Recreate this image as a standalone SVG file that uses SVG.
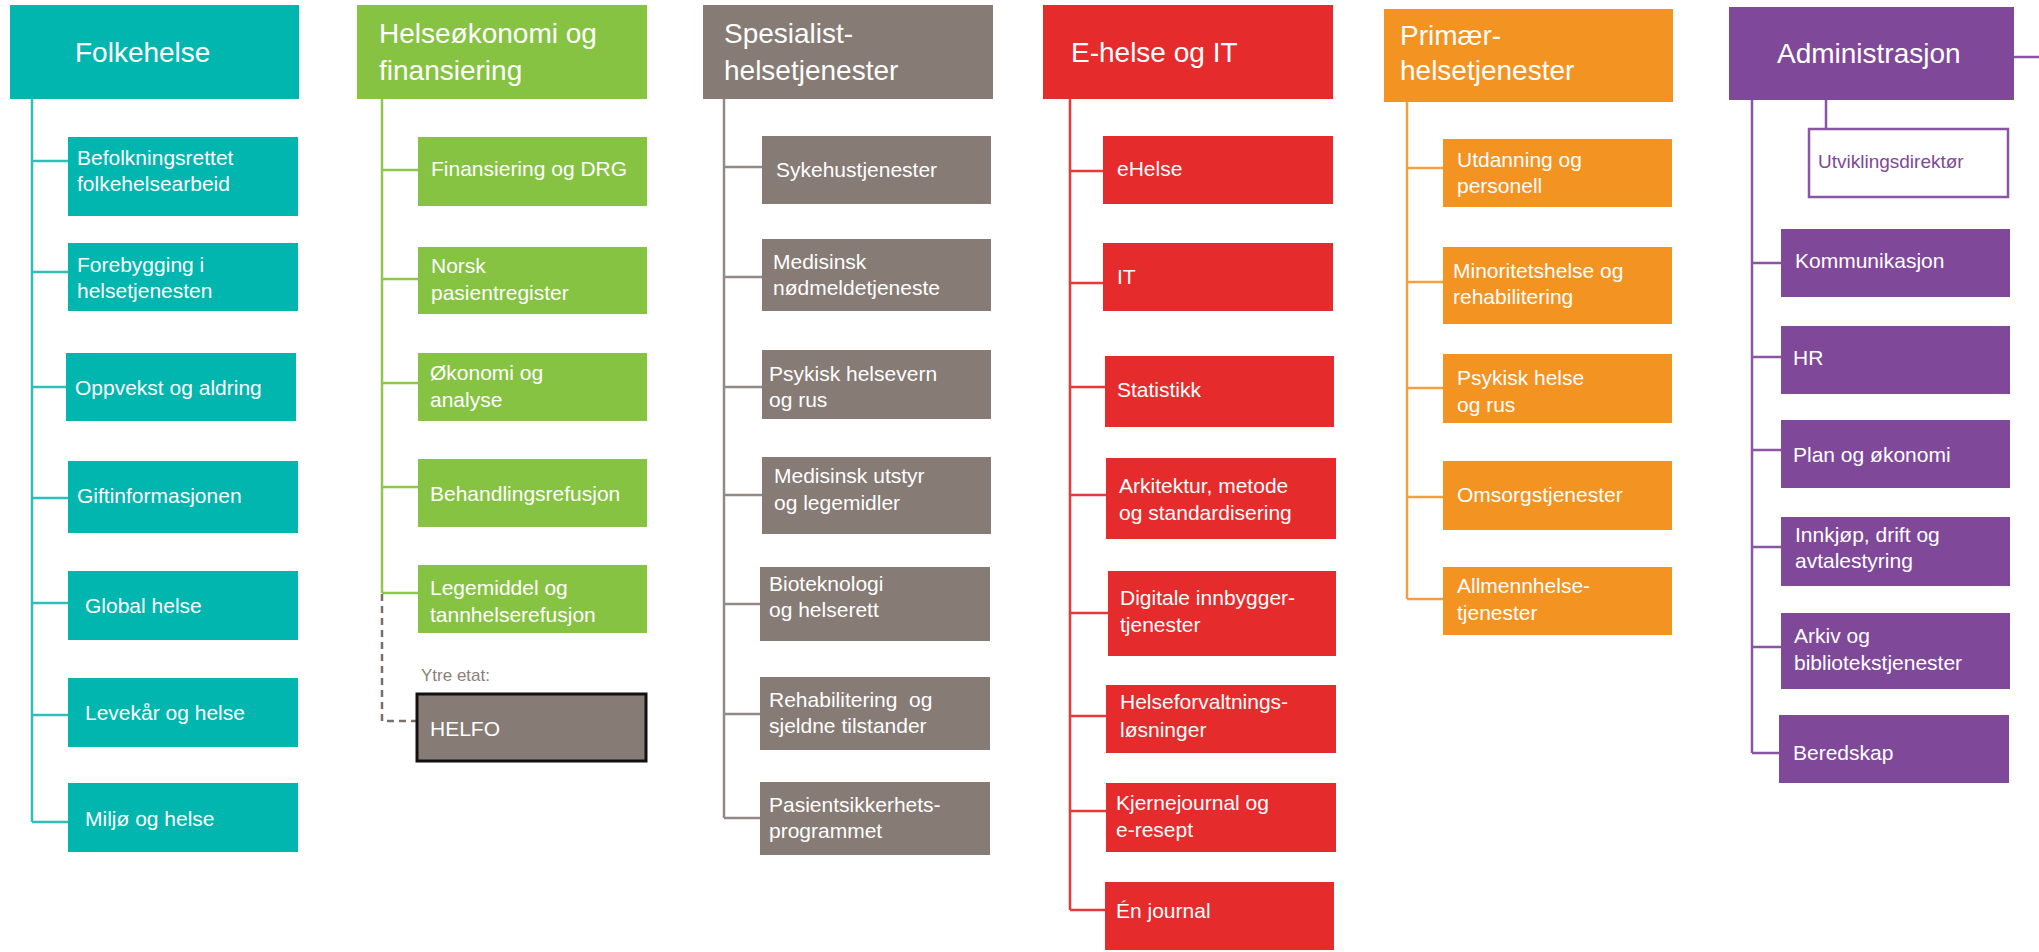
<svg xmlns="http://www.w3.org/2000/svg" width="2039" height="952" viewBox="0 0 2039 952">
<style>
text{font-family:"Liberation Sans",Arial,sans-serif;fill:#fff}
.h{font-size:28px}
.c{font-size:21px}
.teal{fill:#00B6AE}
.green{fill:#86C342}
.gray{fill:#877B75}
.red{fill:#E52B2B}
.orange{fill:#F39321}
.purple{fill:#7F4899}
.ln{fill:none;stroke-width:2.5}
.lteal{stroke:#2EC0B8}
.lgreen{stroke:#8DC74C}
.lgray{stroke:#948A85}
.lred{stroke:#E8393A}
.lorange{stroke:#F5A040}
.lpurple{stroke:#8A56A3}
</style>
<rect width="2039" height="952" fill="#fff"/>
<g id="connectors">
<path class="ln lteal" d="M32 99V822M32 161H68M32 272H68M32 387H66M32 498H68M32 603H68M32 715H68M32 822H68"/>
<path class="ln lgreen" d="M382 99V593M382 170H418M382 279H418M382 383H418M382 487H418M382 593H418"/>
<path fill="none" stroke="#7A6F6B" stroke-width="2.5" stroke-dasharray="7,5" d="M382 594V721H416"/>
<path class="ln lgray" d="M724 99V818M724 167H762M724 277H762M724 387H762M724 495H762M724 604H760M724 714H760M724 818H760"/>
<path class="ln lred" d="M1070 99V910M1070 171H1103M1070 283H1103M1070 387H1105M1070 495H1106M1070 613H1108M1070 716H1106M1070 811H1106M1070 910H1105"/>
<path class="ln lorange" d="M1407 102V599M1407 168H1443M1407 282H1443M1407 388H1443M1407 497H1443M1407 599H1443"/>
<path class="ln lpurple" d="M1752 100V753M1752 263H1781M1752 357H1781M1752 450H1781M1752 547H1781M1752 647H1781M1752 753H1779M1826 100V129M2014 57H2039"/>
</g>
<g id="folkehelse"><rect class="teal" x="10" y="5" width="289" height="94"/><text class="h" x="75" y="62">Folkehelse</text></g>
<g id="befolkning"><rect class="teal" x="68" y="137" width="230" height="79"/><text class="c" x="77" y="165">Befolkningsrettet</text><text class="c" x="77" y="191">folkehelsearbeid</text></g>
<g id="forebygging"><rect class="teal" x="68" y="243" width="230" height="68"/><text class="c" x="77" y="272">Forebygging i</text><text class="c" x="77" y="298">helsetjenesten</text></g>
<g id="oppvekst"><rect class="teal" x="66" y="353" width="230" height="68"/><text class="c" x="75" y="395">Oppvekst og aldring</text></g>
<g id="giftinfo"><rect class="teal" x="68" y="461" width="230" height="72"/><text class="c" x="77" y="503">Giftinformasjonen</text></g>
<g id="global"><rect class="teal" x="68" y="571" width="230" height="69"/><text class="c" x="85" y="613">Global helse</text></g>
<g id="levekar"><rect class="teal" x="68" y="678" width="230" height="69"/><text class="c" x="85" y="720">Levekår og helse</text></g>
<g id="miljo"><rect class="teal" x="68" y="783" width="230" height="69"/><text class="c" x="85" y="826">Miljø og helse</text></g>

<g id="helseokonomi"><rect class="green" x="357" y="5" width="290" height="94"/><text class="h" x="379" y="43">Helseøkonomi og</text><text class="h" x="379" y="80">finansiering</text></g>
<g id="finansiering"><rect class="green" x="418" y="137" width="229" height="69"/><text class="c" x="431" y="176">Finansiering og DRG</text></g>
<g id="npr"><rect class="green" x="418" y="247" width="229" height="67"/><text class="c" x="431" y="273">Norsk</text><text class="c" x="431" y="300">pasientregister</text></g>
<g id="okonomi"><rect class="green" x="418" y="353" width="229" height="68"/><text class="c" x="430" y="380">Økonomi og</text><text class="c" x="430" y="407">analyse</text></g>
<g id="behandling"><rect class="green" x="418" y="459" width="229" height="68"/><text class="c" x="430" y="501">Behandlingsrefusjon</text></g>
<g id="legemiddel"><rect class="green" x="418" y="565" width="229" height="68"/><text class="c" x="430" y="595">Legemiddel og</text><text class="c" x="430" y="622">tannhelserefusjon</text></g>
<g id="helfo"><text x="421" y="681" font-size="17" style="fill:#8A7F7A">Ytre etat:</text><rect x="417" y="694" width="229" height="67" fill="#877B75" stroke="#111" stroke-width="3"/><text class="c" x="430" y="736">HELFO</text></g>

<g id="spesialist"><rect class="gray" x="703" y="5" width="290" height="94"/><text class="h" x="724" y="43">Spesialist-</text><text class="h" x="724" y="80">helsetjenester</text></g>
<g id="sykehus"><rect class="gray" x="762" y="136" width="229" height="68"/><text class="c" x="776" y="177">Sykehustjenester</text></g>
<g id="nodmeld"><rect class="gray" x="762" y="239" width="229" height="72"/><text class="c" x="773" y="269">Medisinsk</text><text class="c" x="773" y="295">nødmeldetjeneste</text></g>
<g id="psykisk-s"><rect class="gray" x="762" y="350" width="229" height="69"/><text class="c" x="769" y="381">Psykisk helsevern</text><text class="c" x="769" y="407">og rus</text></g>
<g id="utstyr"><rect class="gray" x="762" y="457" width="229" height="77"/><text class="c" x="774" y="483">Medisinsk utstyr</text><text class="c" x="774" y="510">og legemidler</text></g>
<g id="bioteknologi"><rect class="gray" x="760" y="567" width="230" height="74"/><text class="c" x="769" y="591">Bioteknologi</text><text class="c" x="769" y="617">og helserett</text></g>
<g id="rehab"><rect class="gray" x="760" y="677" width="230" height="73"/><text class="c" x="769" y="707" xml:space="preserve">Rehabilitering  og</text><text class="c" x="769" y="733">sjeldne tilstander</text></g>
<g id="pasientsikkerhet"><rect class="gray" x="760" y="782" width="230" height="73"/><text class="c" x="769" y="812">Pasientsikkerhets-</text><text class="c" x="769" y="838">programmet</text></g>

<g id="ehelse-it"><rect class="red" x="1043" y="5" width="290" height="94"/><text class="h" x="1071" y="62">E-helse og IT</text></g>
<g id="ehelse"><rect class="red" x="1103" y="136" width="230" height="68"/><text class="c" x="1117" y="176">eHelse</text></g>
<g id="it"><rect class="red" x="1103" y="243" width="230" height="68"/><text class="c" x="1117" y="284">IT</text></g>
<g id="statistikk"><rect class="red" x="1105" y="356" width="229" height="71"/><text class="c" x="1117" y="397">Statistikk</text></g>
<g id="arkitektur"><rect class="red" x="1106" y="458" width="230" height="81"/><text class="c" x="1119" y="493">Arkitektur, metode</text><text class="c" x="1119" y="520">og standardisering</text></g>
<g id="digitale"><rect class="red" x="1108" y="571" width="228" height="85"/><text class="c" x="1120" y="605">Digitale innbygger-</text><text class="c" x="1120" y="632">tjenester</text></g>
<g id="helseforvaltning"><rect class="red" x="1106" y="685" width="230" height="68"/><text class="c" x="1120" y="709">Helseforvaltnings-</text><text class="c" x="1120" y="737">løsninger</text></g>
<g id="kjernejournal"><rect class="red" x="1106" y="783" width="230" height="69"/><text class="c" x="1116" y="810">Kjernejournal og</text><text class="c" x="1116" y="837">e-resept</text></g>
<g id="en-journal"><rect class="red" x="1105" y="882" width="229" height="68"/><text class="c" x="1116" y="918">Én journal</text></g>

<g id="primaer"><rect class="orange" x="1384" y="9" width="289" height="93"/><text class="h" x="1400" y="45">Primær-</text><text class="h" x="1400" y="80">helsetjenester</text></g>
<g id="utdanning"><rect class="orange" x="1443" y="139" width="229" height="68"/><text class="c" x="1457" y="167">Utdanning og</text><text class="c" x="1457" y="193">personell</text></g>
<g id="minoritet"><rect class="orange" x="1443" y="247" width="229" height="77"/><text class="c" x="1453" y="278">Minoritetshelse og</text><text class="c" x="1453" y="304">rehabilitering</text></g>
<g id="psykisk-p"><rect class="orange" x="1443" y="354" width="229" height="69"/><text class="c" x="1457" y="385">Psykisk helse</text><text class="c" x="1457" y="412">og rus</text></g>
<g id="omsorg"><rect class="orange" x="1443" y="461" width="229" height="69"/><text class="c" x="1457" y="502">Omsorgstjenester</text></g>
<g id="allmenn"><rect class="orange" x="1443" y="567" width="229" height="68"/><text class="c" x="1457" y="593">Allmennhelse-</text><text class="c" x="1457" y="620">tjenester</text></g>

<g id="administrasjon"><rect class="purple" x="1729" y="7" width="285" height="93"/><text class="h" x="1777" y="63">Administrasjon</text></g>
<g id="utvikling"><rect x="1809" y="129" width="199" height="68" fill="#fff" stroke="#8A56A3" stroke-width="2.5"/><text x="1818" y="168" font-size="19" style="fill:#7F4899">Utviklingsdirektør</text></g>
<g id="kommunikasjon"><rect class="purple" x="1781" y="229" width="229" height="68"/><text class="c" x="1795" y="268">Kommunikasjon</text></g>
<g id="hr"><rect class="purple" x="1781" y="326" width="229" height="68"/><text class="c" x="1793" y="365">HR</text></g>
<g id="plan"><rect class="purple" x="1781" y="420" width="229" height="68"/><text class="c" x="1793" y="462">Plan og økonomi</text></g>
<g id="innkjop"><rect class="purple" x="1781" y="517" width="229" height="69"/><text class="c" x="1795" y="542">Innkjøp, drift og</text><text class="c" x="1795" y="568">avtalestyring</text></g>
<g id="arkiv"><rect class="purple" x="1781" y="613" width="229" height="76"/><text class="c" x="1794" y="643">Arkiv og</text><text class="c" x="1794" y="670">bibliotekstjenester</text></g>
<g id="beredskap"><rect class="purple" x="1779" y="715" width="230" height="68"/><text class="c" x="1793" y="760">Beredskap</text></g>
</svg>
